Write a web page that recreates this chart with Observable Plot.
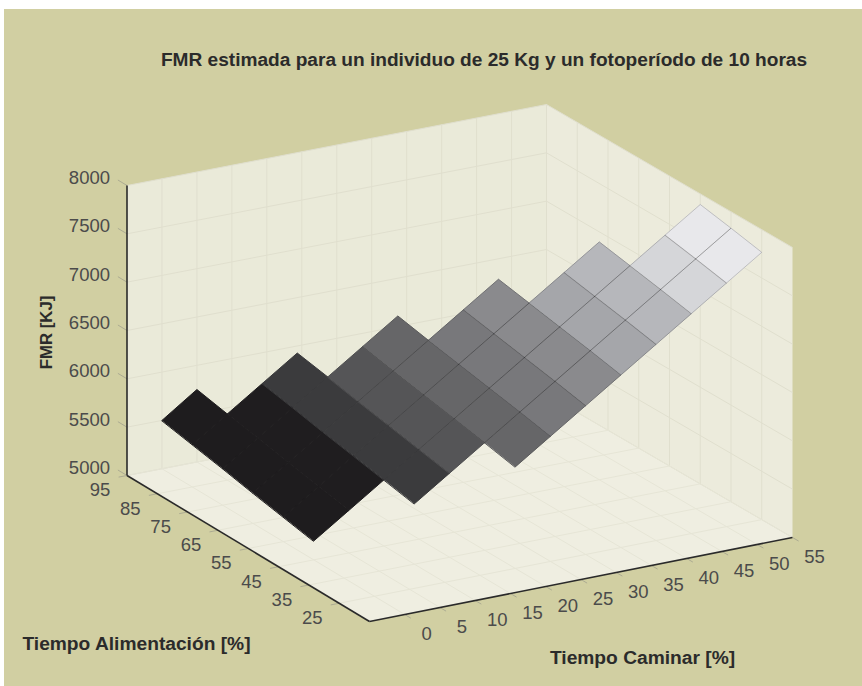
<!DOCTYPE html>
<html>
<head>
<meta charset="utf-8">
<script src="https://cdn.jsdelivr.net/npm/d3@7"></script>
<script src="https://cdn.jsdelivr.net/npm/@observablehq/plot@0.6"></script>
<style>
html,body{margin:0;padding:0;background:#fff;overflow:hidden}
#panel{position:absolute;left:4px;top:9px;width:858px;height:677px;background:#d1cfa2}
svg{display:block;background:transparent!important}
</style>
</head>
<body>
<div id="panel"></div>
<script>
// ---- data ----
const title = "FMR estimada para un individuo de 25 Kg y un fotoperíodo de 10 horas";
const labelWalk = "Tiempo Caminar [%]";
const labelFeed = "Tiempo Alimentación [%]";
const labelFmr = "FMR [KJ]";

const walkDomain = [-5, 55];
const feedDomain = [15, 95];
const fmrDomain = [5000, 8000];

const walkTicks = [0, 5, 10, 15, 20, 25, 30, 35, 40, 45, 50, 55];
const feedTicks = [25, 35, 45, 55, 65, 75, 85, 95];
const fmrTicks = [5000, 5500, 6000, 6500, 7000, 7500, 8000];

// FMR per feeding level; each row starts at the walking time in rowStart
const rowFeed = [95, 85, 75, 65, 55, 45, 35, 25];
const rowStart = [0, 0, 0, 0, 0, 0, 10, 20];
const fmr95 = [5500, 5750];
const fmr85 = [5440, 5685, 5930, 6175];
const fmr75 = [5380, 5625, 5870, 6115, 6360, 6605];
const fmr65 = [5315, 5560, 5805, 6050, 6295, 6540, 6785, 7030];
const fmr55 = [5255, 5500, 5745, 5990, 6235, 6480, 6725, 6970, 7215, 7460];
const fmr45 = [5195, 5440, 5685, 5930, 6175, 6420, 6665, 6910, 7155, 7400, 7645, 7890];
const fmr35 = [5625, 5870, 6115, 6360, 6605, 6850, 7095, 7340, 7585, 7830];
const fmr25 = [6050, 6295, 6540, 6785, 7030, 7275, 7520, 7765];
const rows = [fmr95, fmr85, fmr75, fmr65, fmr55, fmr45, fmr35, fmr25];

// shade and edge strength per walking-time column of the surface
const shadeColumns = [0, 5, 10, 15, 20, 25, 30, 35, 40, 45, 50];
const shadeGrays = ["#1e1c1e", "#1f1d1f", "#3b3b3d", "#555557", "#666668", "#78787b", "#8a8a8d", "#a5a6aa", "#b6b7bb", "#d5d6d9", "#e8e8eb"];
const edgeStrength = [0, 0, 0.02, 0.08, 0.12, 0.16, 0.18, 0.18, 0.18, 0.18, 0.18];

// ---- view of the box: the 3-D to page projection ----
const W = 858, H = 677, panelX = 4, panelY = 9;
const front = [369, 621], walkVec = [423, -84], feedVec = [-242.5, -146], fmrVec = [0, -290], bend = [-3.5, 3];
function project(w, f, z) {
  const u = (w - walkDomain[0]) / (walkDomain[1] - walkDomain[0]);
  const v = (f - feedDomain[0]) / (feedDomain[1] - feedDomain[0]);
  const t = (z - fmrDomain[0]) / (fmrDomain[1] - fmrDomain[0]);
  return [
    front[0] + u * walkVec[0] + v * feedVec[0] + t * fmrVec[0] + u * v * bend[0] - panelX,
    front[1] + u * walkVec[1] + v * feedVec[1] + t * fmrVec[1] + u * v * bend[1] - panelY
  ];
}
const [w0, w1] = walkDomain, [f0, f1] = feedDomain, [z0, z1] = fmrDomain;

function poly(id, corners) {
  return corners.map(c => { const [x, y] = project(...c); return {id, x, y}; });
}
function seg(a, b) {
  const [x1, y1] = project(...a), [x2, y2] = project(...b);
  return {x1, y1, x2, y2};
}

// surface cells
const vertex = new Map();
rows.forEach((row, i) => row.forEach((z, k) => vertex.set(`${rowStart[i] + 5 * k}|${rowFeed[i]}`, z)));
const cells = [];
rowFeed.slice(0, -1).forEach((f, i) => {
  const g = rowFeed[i + 1];
  walkTicks.slice(0, -1).forEach(w => {
    const keys = [[w, f], [w + 5, f], [w + 5, g], [w, g]];
    if (keys.every(([a, b]) => vertex.has(`${a}|${b}`))) {
      poly(`${w}-${f}`, keys.map(([a, b]) => [a, b, vertex.get(`${a}|${b}`)]))
        .forEach(p => cells.push({...p, column: w, edge: edgeStrength[shadeColumns.indexOf(w)]}));
    }
  });
});

// grid lines
const wallGrid = [
  ...walkTicks.map(w => seg([w, f1, z0], [w, f1, z1])),
  ...fmrTicks.map(z => seg([w0, f1, z], [w1, f1, z])),
  ...feedTicks.map(f => seg([w1, f, z0], [w1, f, z1])),
  ...fmrTicks.map(z => seg([w1, f0, z], [w1, f1, z]))
];
const floorGrid = [
  ...walkTicks.map(w => seg([w, f0, z0], [w, f1, z0])),
  ...feedTicks.map(f => seg([w0, f, z0], [w1, f, z0]))
];
const axes = [seg([w0, f1, z0], [w0, f1, z1]), seg([w0, f0, z0], [w0, f1, z0]), seg([w0, f0, z0], [w1, f0, z0])];
const ticks = [
  ...fmrTicks.map(z => seg([w0, f1, z], [w0, f1 + 3, z])),
  ...feedTicks.map(f => seg([w0, f, z0], [w0 - 1.2, f, z0])),
  ...walkTicks.map(w => seg([w, f0, z0], [w, f0 - 2, z0]))
];
const fmrLabels = fmrTicks.map(z => { const p = project(w0, f1, z); return {t: String(z), x: p[0] - 17, y: p[1] - 7.5}; });
const feedLabels = feedTicks.map(f => { const p = project(w0, f, z0); return {t: String(f), x: p[0] - 27, y: p[1] + 15}; });
const walkLabels = walkTicks.map(w => { const p = project(w, f0, z0); return {t: String(w), x: p[0] + 22, y: p[1] + 19.5}; });

const tickFont = {fontFamily: "Liberation Sans", fontSize: 18.5, fill: "#4b4b4b"};
const headFont = {fontFamily: "Liberation Sans", fontWeight: "bold", fill: "#2b2b2b"};

const chart = Plot.plot({
  width: W, height: H, margin: 0,
  x: {domain: [0, W], range: [0, W], axis: null},
  y: {domain: [0, H], range: [0, H], axis: null},
  color: {type: "ordinal", domain: shadeColumns, range: shadeGrays},
  opacity: {type: "identity"},
  marks: [
    Plot.line(poly("left", [[w0, f1, z0], [w0, f1, z1], [w1, f1, z1], [w1, f1, z0]]), {x: "x", y: "y", curve: "linear-closed", fill: "#eaead9", stroke: "none"}),
    Plot.line(poly("right", [[w1, f1, z0], [w1, f1, z1], [w1, f0, z1], [w1, f0, z0]]), {x: "x", y: "y", curve: "linear-closed", fill: "#ecebdc", stroke: "none"}),
    Plot.line(poly("floor", [[w0, f1, z0], [w0, f0, z0], [w1, f0, z0], [w1, f1, z0]]), {x: "x", y: "y", curve: "linear-closed", fill: "#efeee1", stroke: "none"}),
    Plot.link(wallGrid, {x1: "x1", y1: "y1", x2: "x2", y2: "y2", stroke: "#e0dfce", strokeWidth: 1}),
    Plot.link(floorGrid, {x1: "x1", y1: "y1", x2: "x2", y2: "y2", stroke: "#e6e5d6", strokeWidth: 1}),
    Plot.link(ticks, {x1: "x1", y1: "y1", x2: "x2", y2: "y2", stroke: "#acab92", strokeWidth: 1}),
    Plot.link(axes, {x1: "x1", y1: "y1", x2: "x2", y2: "y2", stroke: "#2a2a2a", strokeWidth: 1.6}),
    Plot.line(cells, {x: "x", y: "y", z: "id", curve: "linear-closed", fill: "column", stroke: "column", strokeWidth: 1}),
    Plot.line(cells, {x: "x", y: "y", z: "id", curve: "linear-closed", fill: "none", stroke: "#000", strokeOpacity: "edge", strokeWidth: 1}),
    Plot.text(fmrLabels, {x: "x", y: "y", text: "t", textAnchor: "end", ...tickFont}),
    Plot.text(feedLabels, {x: "x", y: "y", text: "t", ...tickFont}),
    Plot.text(walkLabels, {x: "x", y: "y", text: "t", ...tickFont}),
    Plot.text([title], {x: () => 483.5 - panelX, y: () => 59 - panelY, text: d => d, fontSize: 19.1, ...headFont}),
    Plot.text([labelFeed], {x: () => 136 - panelX, y: () => 643 - panelY, text: d => d, fontSize: 19.2, ...headFont}),
    Plot.text([labelWalk], {x: () => 642 - panelX, y: () => 657 - panelY, text: d => d, fontSize: 19.2, ...headFont}),
    Plot.text([labelFmr], {x: () => 46 - panelX, y: () => 332 - panelY, text: d => d, rotate: -90, fontSize: 16.8, ...headFont})
  ]
});
document.getElementById("panel").appendChild(chart);
</script>
</body>
</html>
